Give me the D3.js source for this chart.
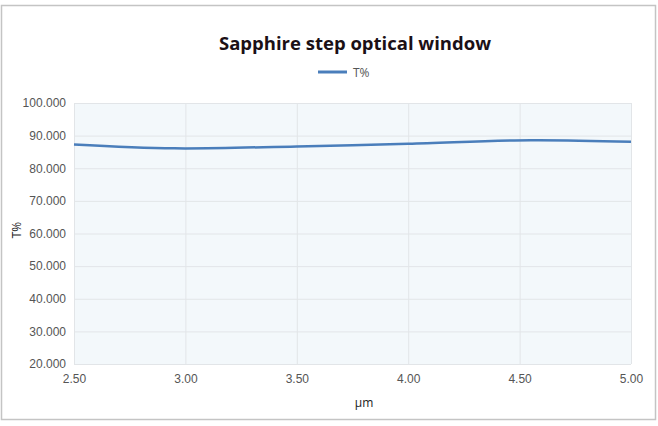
<!DOCTYPE html>
<html>
<head>
<meta charset="utf-8">
<script src="https://cdn.jsdelivr.net/npm/d3@7"></script>
<style>
  body { margin: 0; background: #fff; }
  svg { display: block; font-family: "Open Sans", "Noto Sans", sans-serif; }
</style>
</head>
<body>
<div id="chart"></div>
<script>
// wavelength (µm) and transmission (T%)
var wavelengths = [2.5, 2.95, 3.5, 4.0, 4.55, 5.0];
var transmission = [87.3, 86.1, 86.7, 87.5, 88.6, 88.1];
var xTicks = [2.5, 3.0, 3.5, 4.0, 4.5, 5.0];
var yTicks = [20, 30, 40, 50, 60, 70, 80, 90, 100];
var seriesName = "T%";

function drawChart() {
    var w = 658;
    var h = 426;
    var margin = { left: 74, right: 27, top: 103, bottom: 62 };

    var svg = d3.select("#chart")
        .append("svg")
        .attr("width", w)
        .attr("height", h);

    // outer frame
    svg.append("rect")
        .attr("x", 1.5).attr("y", 5.5)
        .attr("width", 654).attr("height", 414)
        .attr("fill", "#fff")
        .attr("stroke", "#c4c4c4")
        .attr("stroke-width", 1.5);

    var x = d3.scaleLinear().domain([2.5, 5.0]).range([margin.left, w - margin.right]);
    var y = d3.scaleLinear().domain([20, 100]).range([h - margin.bottom, margin.top]);

    // plot background
    svg.append("rect")
        .attr("x", x(2.5)).attr("y", y(100))
        .attr("width", x(5.0) - x(2.5)).attr("height", y(20) - y(100))
        .attr("fill", "#f3f8fb");

    // grid lines
    svg.append("g")
        .attr("transform", "translate(0," + y(20) + ")")
        .call(d3.axisBottom(x).tickValues(xTicks).tickSize(-(y(20) - y(100))).tickFormat(""))
        .call(function (g) { g.select(".domain").remove(); })
        .selectAll("line").attr("stroke", "#e2e5e8");

    svg.append("g")
        .attr("transform", "translate(" + x(2.5) + ",0)")
        .call(d3.axisLeft(y).tickValues(yTicks).tickSize(-(x(5.0) - x(2.5))).tickFormat(""))
        .call(function (g) { g.select(".domain").remove(); })
        .selectAll("line").attr("stroke", "#e2e5e8");

    // tick labels
    var xAxis = svg.append("g")
        .attr("transform", "translate(0," + y(20) + ")")
        .call(d3.axisBottom(x).tickValues(xTicks).tickSize(0).tickPadding(10).tickFormat(d3.format(".2f")));
    xAxis.select(".domain").remove();
    xAxis.selectAll("text").attr("fill", "#555").attr("font-size", "12px");

    var yAxis = svg.append("g")
        .attr("transform", "translate(" + x(2.5) + ",0)")
        .call(d3.axisLeft(y).tickValues(yTicks).tickSize(0).tickPadding(8).tickFormat(d3.format(".3f")));
    yAxis.select(".domain").remove();
    yAxis.selectAll("text").attr("fill", "#555").attr("font-size", "12px");

    // the series line
    var line = d3.line()
        .x(function (d, i) { return x(wavelengths[i]); })
        .y(function (d) { return y(d); })
        .curve(d3.curveCatmullRom.alpha(0.5));

    svg.append("path")
        .datum(transmission)
        .attr("fill", "none")
        .attr("stroke", "#4a7ebb")
        .attr("stroke-width", 2.5)
        .attr("d", line);

    // title
    svg.append("text")
        .attr("x", 355).attr("y", 50)
        .attr("text-anchor", "middle")
        .attr("font-size", "18.5px")
        .attr("font-weight", "bold")
        .attr("fill", "#1b1016")
        .text("Sapphire step optical window");

    // legend
    svg.append("line")
        .attr("x1", 318).attr("x2", 347)
        .attr("y1", 72).attr("y2", 72)
        .attr("stroke", "#4a7ebb").attr("stroke-width", 3);
    svg.append("text")
        .attr("x", 353).attr("y", 76.5)
        .attr("font-size", "12px")
        .attr("fill", "#555")
        .text(seriesName);

    // axis titles
    svg.append("text")
        .attr("x", 364).attr("y", 407)
        .attr("text-anchor", "middle")
        .attr("font-size", "12px")
        .attr("fill", "#222")
        .text("µm");

    svg.append("text")
        .attr("transform", "translate(21,230) rotate(-90)")
        .attr("text-anchor", "middle")
        .attr("font-size", "12px")
        .attr("fill", "#222")
        .text("T%");
}

drawChart();
</script>
</body>
</html>
